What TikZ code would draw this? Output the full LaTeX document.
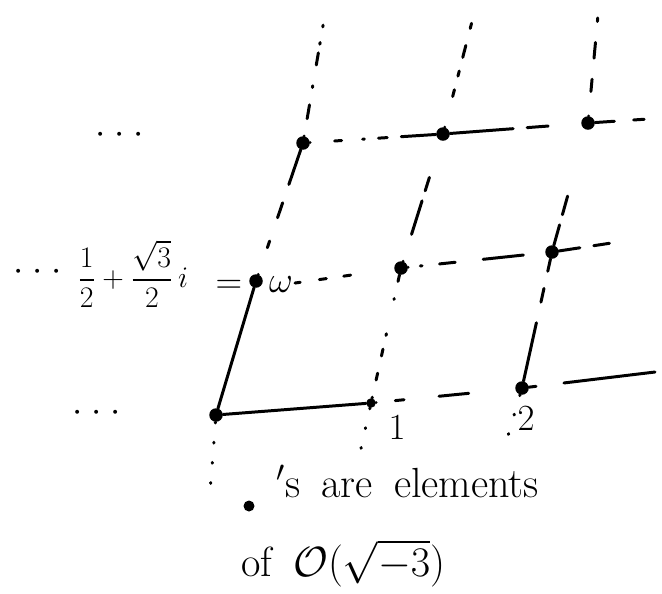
\RequirePackage{fix-cm}
\documentclass[tikz,border=0pt]{standalone}
\usepackage{amsmath,amssymb}
\usetikzlibrary{positioning, calc}

\tikzset{
  pt/.style={circle, fill=black, inner sep=0pt, minimum size=0.27cm},
  basis/.style={line width=1.7pt},
  sparse/.style={line width=1.7pt, dash pattern=on 0.5pt off 11pt},
  lbl/.style={font=\fontsize{21}{24}\selectfont, inner sep=1pt}
}
\newcommand{\threedots}{$\cdot$\hspace{5pt}$\cdot$\hspace{5pt}$\cdot$}

\begin{document}
\begin{tikzpicture}[x=0.02cm, y=-0.02cm, line cap=round]
  \useasboundingbox (0,0) rectangle (662,593);

  % lattice points
  \node[pt] (o) at (216,415) {};
  \node[pt, minimum size=0.19cm] (one) at (371,403) {};
  \node[pt] (two) at (522,388) {};
  \node[pt] (w) at (256,281) {};
  \node[pt] (w1) at (401,268) {};
  \node[pt] (w2) at (552,252) {};
  \node[pt] (t0) at (303,143) {};
  \node[pt] (t1) at (443,134) {};
  \node[pt] (t2) at (588,123) {};

  % loose ends of the grid
  \coordinate (bR) at (655,372);
  \coordinate (mR) at (618,242);
  \coordinate (tR) at (648,119);
  \coordinate (c0T) at (326,8);
  \coordinate (c1T) at (476,6);
  \coordinate (c2T) at (598,15);
  \coordinate (c0B) at (210,492);
  \coordinate (c1B) at (358,462);
  \coordinate (c2B) at (505,446);

  % labels
  \node[lbl] (lb) at (97,413) {\threedots};
  \node[lbl] (lm) at (38,272) {\threedots};
  \node[lbl] (lt) at (120,135) {\threedots};
  \node[lbl, font=\fontsize{17}{20}\selectfont] (wval) at (133,274) {$\displaystyle \frac{1}{2}+\frac{\sqrt{3}}{2}\,i$};
  \node[lbl] (eq) at (229,287) {$=$};
  \node[lbl] (wlab) at (281,285) {$\omega$};
  \node[lbl] (lab1) at (397,428) {$1$};
  \node[lbl] (lab2) at (526,419) {$2$};

  % basis vectors
  \draw[basis] (o) -- (one);
  \draw[basis] (o) -- (w);

  % rows
  \draw[basis, dash pattern=on 0pt off 11pt on 5pt off 20pt on 17pt off 40pt] (one) -- (two);
  \draw[basis, dash pattern=on 4pt off 16pt on 60pt] (two) -- (bR);
  \draw[basis, dash pattern=on 3pt off 11pt on 4pt off 10pt on 4pt off 30pt] (wlab) -- (w1);
  \draw[basis, dash pattern=on 0pt off 7pt on 1pt off 10pt on 9pt off 16pt on 23pt off 20pt] (w1) -- (w2);
  \draw[basis, dash pattern=on 12pt off 8pt on 9pt off 20pt] (w2) -- (mR);
  \draw[basis, dash pattern=on 0pt off 14pt on 4pt off 12pt on 1pt off 8pt on 5pt off 8pt on 20pt] (t0) -- (t1);
  \draw[basis, dash pattern=on 36pt off 8pt on 12pt off 40pt] (t1) -- (t2);
  \draw[basis, dash pattern=on 11pt off 11pt on 6pt off 20pt] (t2) -- (tR);

  % columns
  \draw[basis, dash pattern=on 0pt off 16pt on 4pt off 14pt on 9pt off 11pt on 40pt] (w) -- (t0);
  \draw[basis, dash pattern=on 0pt off 10pt on 8pt off 10pt on 1pt off 12pt on 7pt off 5pt on 1pt off 9pt on 1pt off 20pt] (t0) -- (c0T);
  \draw[basis, dash pattern=on 0.5pt off 10pt on 4pt off 10pt on 4pt off 8pt on 1pt off 20pt] (one) -- (w1);
  \draw[basis, dash pattern=on 0pt off 16pt on 20pt off 6pt on 8pt off 40pt] (w1) -- (t1);
  \draw[basis, dash pattern=on 0pt off 18pt on 4pt off 8pt on 3pt off 8pt on 7pt off 10pt on 3pt off 20pt] (t1) -- (c1T);
  \draw[basis, dash pattern=on 34pt off 12pt on 8pt off 10pt on 14pt] (two) -- (w2);
  \draw[basis, dash pattern=on 12pt off 6pt on 11pt off 40pt] (w2) -- (t2);
  \draw[basis, dash pattern=on 0pt off 14pt on 7pt off 12pt on 9pt off 12pt on 2pt off 20pt] (t2) -- (c2T);
  \draw[sparse] (o) -- (c0B);
  \draw[sparse] (one) -- (c1B);
  \draw[sparse] (two) -- (c2B);

  % legend
  \node[pt, minimum size=0.22cm] (key) at (249,506) {};
  \node[font=\fontsize{24}{28}\selectfont, align=left, anchor=north west, inner sep=0pt] (keytxt) at (276,465)
    {$'$s\enspace are\enspace elements\\[17pt]\hspace*{-20pt}of\enspace$\mathcal{O}(\sqrt{-3})$};
\end{tikzpicture}
\end{document}
